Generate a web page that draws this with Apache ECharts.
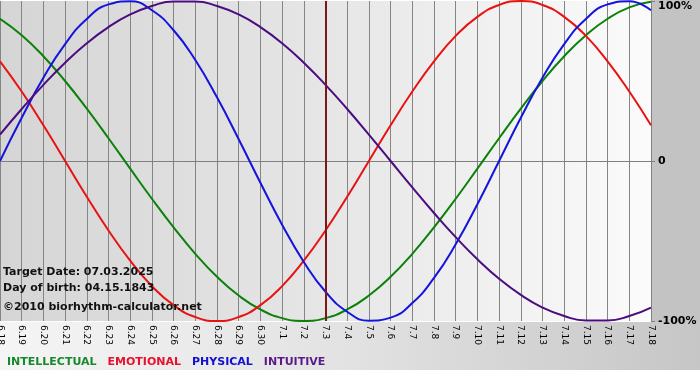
<!DOCTYPE html>
<html>
<head>
<meta charset="utf-8">
<script src="https://cdn.jsdelivr.net/npm/echarts@6/dist/echarts.min.js"></script>
<style>
html,body{margin:0;padding:0;background:#fff;}
#chart{width:700px;height:380px;}
</style>
</head>
<body>
<div id="chart"></div>
<script>
// Day labels (x axis)
const dates = ['6.18','6.19','6.20','6.21','6.22','6.23','6.24','6.25','6.26','6.27','6.28','6.29','6.30',
  '7.1','7.2','7.3','7.4','7.5','7.6','7.7','7.8','7.9','7.10','7.11','7.12','7.13','7.14','7.15','7.16','7.17','7.18'];
// Series values in percent
const intellectual = [88.9,78.6,65.5,50,32.7,14.2,-4.8,-23.6,-41.5,-58,-72.4,-84.1,-92.8,-98.2,-100,-98.2,-92.8,-84.1,-72.4,-58,-41.5,-23.6,-4.8,14.2,32.7,50,65.5,78.6,88.9,96,99.5];
const emotional    = [62.3,43.4,22.3,0,-22.3,-43.4,-62.3,-78.2,-90.1,-97.5,-100,-97.5,-90.1,-78.2,-62.3,-43.4,-22.3,0,22.3,43.4,62.3,78.2,90.1,97.5,100,97.5,90.1,78.2,62.3,43.4,22.3];
const physical     = [0,27,52,73.1,88.8,97.9,99.8,94.2,81.7,63.1,39.8,13.6,-13.6,-39.8,-63.1,-81.7,-94.2,-99.8,-97.9,-88.8,-73.1,-52,-27,0,27,52,73.1,88.8,97.9,99.8,94.2];
const intuitive    = [16.5,32.5,47.6,61.4,73.6,83.7,91.6,96.9,99.7,99.7,96.9,91.6,83.7,73.6,61.4,47.6,32.5,16.5,0,-16.5,-32.5,-47.6,-61.4,-73.6,-83.7,-91.6,-96.9,-99.7,-99.7,-96.9,-91.6];
const seriesNames  = ['INTELLECTUAL','EMOTIONAL','PHYSICAL','INTUITIVE'];
const yTicks       = [-100, 0, 100];
const targetDate   = '7.3';
const infoLines    = ['Target Date: 07.03.2025', 'Day of birth: 04.15.1843', '\u00a92010 biorhythm-calculator.net'];

const colors = {INTELLECTUAL:'#0a820a', EMOTIONAL:'#e81212', PHYSICAL:'#1414dc', INTUITIVE:'#4b0c80'};
const legendColors = {INTELLECTUAL:'#168a2a', EMOTIONAL:'#e8102a', PHYSICAL:'#1010d0', INTUITIVE:'#5a1a8a'};

const chart = echarts.init(document.getElementById('chart'), null, {renderer:'canvas'});
const values = [intellectual, emotional, physical, intuitive];

const series = seriesNames.map((n, i) => {
  const s = {
    name: n, type: 'line', data: values[i], smooth: 0.5, symbol: 'none',
    lineStyle: {color: colors[n], width: 2}, itemStyle: {color: colors[n]},
    emphasis: {disabled: true}, z: 3
  };
  if (n === 'INTUITIVE') {
    s.markLine = {
      silent: true, symbol: ['none','none'], label: {show: false},
      lineStyle: {color: '#7a1818', width: 2, type: 'solid'},
      emphasis: {disabled: true},
      data: [{xAxis: targetDate}]
    };
  }
  return s;
});

const option = {
  backgroundColor: '#ffffff',
  animation: false,
  textStyle: {fontFamily: 'DejaVu Sans'},
  grid: {
    left: 0, top: 1, right: 49, bottom: 59, containLabel: false, outerBoundsMode: 'none',
    show: true, borderWidth: 0,
    backgroundColor: {type: 'linear', x: 0, y: 0, x2: 1, y2: 0,
      colorStops: [{offset: 0, color: '#d5d5d5'}, {offset: 0.5, color: '#e6e6e6'}, {offset: 1, color: '#fbfbfb'}]}
  },
  legend: {
    left: 2, top: 355, padding: 0, orient: 'horizontal', icon: 'none', itemWidth: 0, itemHeight: 14, itemGap: 6,
    selectedMode: false,
    textStyle: {fontFamily: 'DejaVu Sans', fontWeight: 'bold', fontSize: 11},
    data: seriesNames.map(n => ({name: n, textStyle: {color: legendColors[n]}}))
  },
  xAxis: {
    type: 'category', data: dates, boundaryGap: false,
    axisLine: {show: true, lineStyle: {color: '#808080', width: 1}},
    axisTick: {show: true, length: 4, interval: 0, lineStyle: {color: '#808080'}},
    splitLine: {show: true, interval: 0, lineStyle: {color: '#858585', width: 1}},
    axisLabel: {interval: 0, rotate: -90, margin: 4, fontSize: 9, color: '#000', fontFamily: 'DejaVu Sans'}
  },
  yAxis: {
    type: 'value', position: 'right', min: yTicks[0], max: yTicks[2], interval: 100,
    axisLine: {show: true, lineStyle: {color: '#808080', width: 1}},
    axisTick: {show: true, length: 4, lineStyle: {color: '#808080'}},
    splitLine: {show: true, lineStyle: {color: ['rgba(0,0,0,0)', '#858585', 'rgba(0,0,0,0)'], width: 1}},
    axisLabel: {
      margin: 7, fontSize: 11, fontWeight: 'bold', color: '#000', fontFamily: 'DejaVu Sans',
      verticalAlignMaxLabel: 'top',
      formatter: v => (v === 0 ? '0' : v + '%')
    }
  },
  graphic: [
    {type: 'rect', z: -10, silent: true, shape: {x: 651, y: 0, width: 49, height: 322}, style: {fill: '#c3c3c3'}},
    {type: 'rect', z: -10, silent: true, shape: {x: 0, y: 322, width: 700, height: 48},
      style: {fill: {type: 'linear', x: 0, y: 0, x2: 1, y2: 0,
        colorStops: [{offset: 0, color: '#f5f5f5'}, {offset: 0.5, color: '#e2e2e2'}, {offset: 1, color: '#c6c6c6'}]}}},
    {type: 'text', z: 50, silent: true, left: 3, top: 267, style: {text: infoLines[0], font: 'bold 11px "DejaVu Sans"', fill: '#111'}},
    {type: 'text', z: 50, silent: true, left: 3, top: 283, style: {text: infoLines[1], font: 'bold 11px "DejaVu Sans"', fill: '#111'}},
    {type: 'text', z: 50, silent: true, left: 3, top: 302, style: {text: infoLines[2], font: 'bold 11px "DejaVu Sans"', fill: '#111'}}
  ],
  series: series
};
chart.setOption(option);
</script>
</body>
</html>
